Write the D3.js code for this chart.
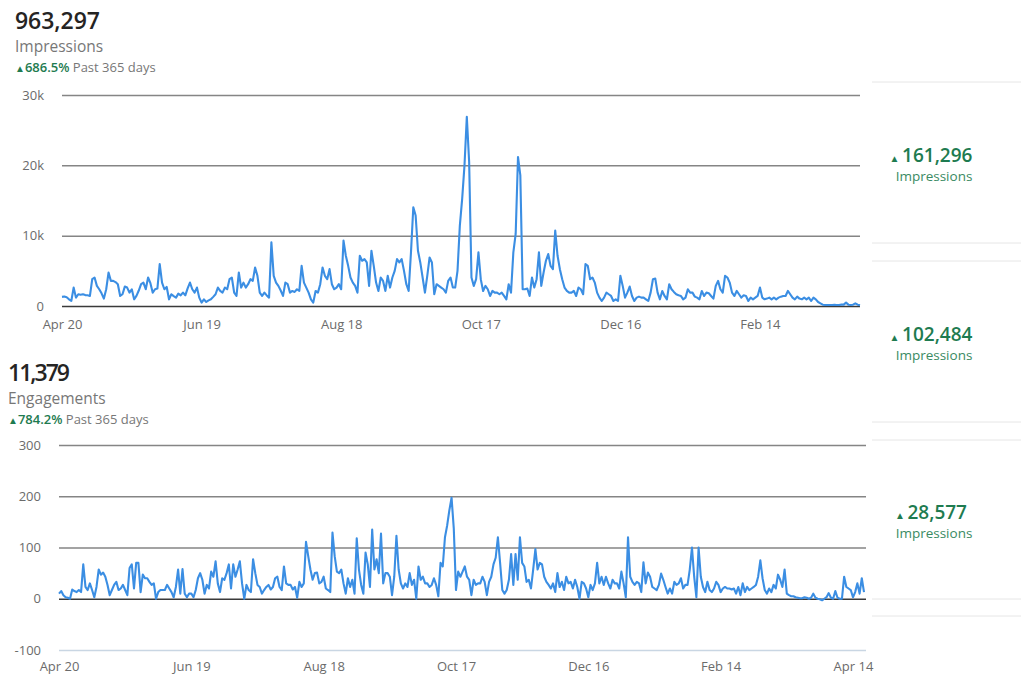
<!DOCTYPE html>
<html>
<head>
<meta charset="utf-8">
<script src="https://cdn.jsdelivr.net/npm/d3@7"></script>
<style>
  body { margin: 0; background: #fff; font-family: "Open Sans", "Noto Sans", sans-serif; }
  svg { display: block; }
</style>
</head>
<body>
<script>
// daily impressions, Apr 20 onwards (top chart)
var impressions = [
  1300,1350,1250,950,710,2620,1190,1670,1600,1670,1550,1520,1430,3810,4050,2860,2380,1800,1050,2380,
  4760,3570,3570,3400,3100,1430,1670,2760,2620,1900,2380,950,1430,2200,3100,3330,2380,4050,3240,1900,
  2380,2480,5950,3330,2380,2710,950,1670,1400,1190,1760,1520,1900,1520,2500,3330,2380,1900,2620,1190,
  480,950,570,800,950,1300,1670,2620,2140,1900,2620,2380,3810,4050,1900,1430,4760,2620,3330,2620,
  3100,3810,3570,5480,4290,1900,1430,1900,1500,1190,9050,4290,3330,2860,2200,1430,3330,3100,1900,2140,
  2000,2380,2140,5710,3330,2620,1900,950,480,2140,1900,
  3100,5480,4290,3810,5240,3100,2380,2620,3100,2380,9290,7140,5710,4050,3330,2860,1900,7140,6430,6670,
  6190,2860,7860,5710,3330,2140,4050,3570,2140,4290,2620,4050,5000,6670,6190,6670,5000,3100,2140,7620,
  14050,12860,7860,6190,4050,1900,4290,6900,6190,1670,3100,2860,2620,2380,1900,3570,4050,2620,2620,5000,
  11430,15240,20000,26900,20480,4050,2860,3810,7620,3810,2140,2860,2380,1430,2140,1900,1900,1670,1900,1430,
  950,3100,1900,7620,10240,21190,18570,2380,2380,2480,1430,4050,2620,3810,7620,2860,4760,6430,7380,5710,
  5240,10710,7140,5240,3810,2620,2140,1900,1900,2140,1430,2620,2380,1670,5950,5710,
  3810,4050,3330,1900,1190,710,1190,1900,1670,1430,710,950,710,4290,2860,1190,1900,2760,1430,710,
  1190,1330,1190,1190,950,710,1900,3810,3900,1900,950,2140,1430,950,3100,2380,2000,1670,1520,1430,
  950,1190,2380,1900,1900,1330,1190,950,2140,1430,1900,1810,1430,1050,2860,3570,2380,1900,4290,4050,
  3330,1900,1430,2140,1670,1190,1520,1430,710,1190,950,1190,1430,2620,1190,950,1050,1190,950,1190,
  950,1190,1330,1430,1430,2140,1670,1190,950,1330,1050,950,1190,950,1190,710,1190,950,570,380,
  190,140,140,150,140,160,140,140,200,190,480,190,140,190,380,190,100
];

// daily engagements, Apr 20 onwards (bottom chart)
var engagements = [
  10,15,7,3,2,0,18,15,13,17,13,67,23,17,30,17,3,23,57,47,
  51,43,27,7,17,27,33,17,20,27,17,7,60,67,20,70,70,13,47,40,
  40,33,27,30,0,13,17,17,17,27,20,13,3,23,57,10,58,10,3,10,
  10,3,17,40,50,37,10,27,20,53,43,73,30,13,40,37,50,67,20,67,
  43,57,73,30,0,27,17,13,77,50,27,23,10,17,23,27,18,23,40,43,
  23,17,63,30,27,27,18,23,2,33,23,30,111,83,57,37,50,51,30,
  33,43,20,17,13,129,83,53,50,57,30,10,40,23,37,10,118,57,27,10,
  90,67,23,135,57,77,50,127,30,50,50,43,7,43,123,57,30,20,30,23,
  50,27,37,0,63,37,43,30,30,23,27,40,27,5,70,63,120,143,173,197,
  137,17,53,43,53,63,43,37,7,37,27,30,30,43,33,7,33,43,67,80,
  120,70,17,10,17,37,87,27,87,37,120,70,63,33,37,20,57,97,57,70,
  67,43,33,27,20,30,13,50,23,33,17,43,30,33,20,37,23,0,33,30,
  20,3,27,
  17,30,70,30,43,27,43,30,20,37,30,30,20,53,30,3,120,43,33,27,
  33,30,13,71,30,51,43,23,20,17,27,49,37,23,10,20,10,33,27,30,
  40,20,27,27,57,100,43,3,100,43,23,13,33,17,13,20,33,27,13,20,
  23,20,20,18,20,10,23,7,30,13,23,17,20,23,27,43,75,40,17,10,
  20,13,27,20,47,37,23,57,10,7,5,5,3,2,1,1,3,2,0,2,
  10,2,0,-1,-3,0,3,11,2,0,15,2,0,0,43,23,20,17,3,13,
  30,10,40,13
];

var startDate = "2019-04-20";
var impTickDates = ["2019-04-20", "2019-06-19", "2019-08-18", "2019-10-17", "2019-12-16", "2020-02-14"];
var engTickDates = ["2019-04-20", "2019-06-19", "2019-08-18", "2019-10-17", "2019-12-16", "2020-02-14", "2020-04-14"];
var impYTicks = [0, 10000, 20000, 30000];
var impYLabels = ["0", "10k", "20k", "30k"];
var engYTicks = [-100, 0, 100, 200, 300];

var headerTotals = ["963,297", "11,379"];
var headerNames = ["Impressions", "Engagements"];
var headerChange = ["686.5%", "784.2%"];
var cardValues = ["161,296", "102,484", "28,577"];
var cardLabel = "Impressions";

var width = 1024, height = 685;
var parse = d3.timeParse("%Y-%m-%d");
var fmt = d3.timeFormat("%b %d");
var lineColor = "#3b8ee3";
var green = "#1e7b50";

var svg = d3.select("body").append("svg")
    .attr("width", width)
    .attr("height", height);

function drawChart(opt) {
  var t0 = parse(startDate);
  var t1 = d3.timeDay.offset(t0, opt.values.length - 1);
  var x = d3.scaleTime().domain([t0, t1]).range([opt.left, opt.right]);
  var y = d3.scaleLinear().domain(opt.yDomain).range([opt.bottom, opt.top]);

  var g = svg.append("g");

  var yAxis = g.append("g")
      .attr("transform", "translate(" + opt.left + ",0)")
      .call(d3.axisLeft(y)
        .tickValues(opt.yTicks)
        .tickSize(-(opt.gridRight - opt.left))
        .tickPadding(18)
        .tickFormat(function(d, i) { return opt.yLabels ? opt.yLabels[i] : d; }));
  yAxis.select(".domain").remove();
  yAxis.selectAll(".tick line")
      .attr("stroke", function(d) { return d === 0 ? "#3a3a3a" : (d < 0 ? "#c9d6e3" : "#858585"); })
      .attr("stroke-width", 1.5);
  yAxis.selectAll(".tick text")
      .attr("fill", "#6b6b6b")
      .style("font-size", "13px")
      .style("font-family", "Open Sans, sans-serif");

  var xAxis = g.append("g")
      .attr("transform", "translate(0," + opt.xLabelY + ")")
      .call(d3.axisBottom(x)
        .tickValues(opt.xTicks.map(parse))
        .tickSize(0)
        .tickFormat(fmt));
  xAxis.select(".domain").remove();
  xAxis.selectAll(".tick text")
      .attr("fill", "#6b6b6b")
      .style("font-size", "13px")
      .style("font-family", "Open Sans, sans-serif");

  var line = d3.line()
      .x(function(d, i) { return x(d3.timeDay.offset(t0, i)); })
      .y(function(d) { return y(d); });

  g.append("path")
      .datum(opt.values)
      .attr("fill", "none")
      .attr("stroke", lineColor)
      .attr("stroke-width", 2.1)
      .attr("stroke-linejoin", "round")
      .attr("d", line);
}

function drawHeader(i, hx, hy, totalW) {
  svg.append("text")
      .attr("x", hx).attr("y", hy)
      .attr("fill", "#252423")
      .attr("textLength", totalW)
      .style("font-size", "23px")
      .style("font-weight", 600)
      .text(headerTotals[i]);
  svg.append("text")
      .attr("x", hx).attr("y", hy + 23)
      .attr("fill", "#777")
      .style("font-size", "15.5px")
      .text(headerNames[i]);
  var t = svg.append("text")
      .attr("x", hx).attr("y", hy + 43)
      .style("font-size", "13px");
  t.append("tspan").attr("fill", green).style("font-size", "10px").text("\u25B2");
  t.append("tspan").attr("fill", green).style("font-weight", 600).text(headerChange[i]);
  t.append("tspan").attr("fill", "#777").text(" Past 365 days");
}

drawHeader(0, 15, 29, 85);
drawHeader(1, 8, 381, 62);

drawChart({
  values: impressions,
  left: 62, right: 860, gridRight: 860,
  top: 95, bottom: 306,
  yDomain: [0, 30000], yTicks: impYTicks, yLabels: impYLabels,
  xTicks: impTickDates, xLabelY: 317
});

drawChart({
  values: engagements,
  left: 59, right: 864, gridRight: 866,
  top: 445, bottom: 650,
  yDomain: [-100, 300], yTicks: engYTicks,
  xTicks: engTickDates, xLabelY: 659
});

// right-hand cards
var cardTops = [82, 261, 440];
var cardBottoms = [243, 422, 599];
var cards = svg.append("g");
cardTops.concat(cardBottoms).concat([616]).forEach(function(yy) {
  cards.append("line")
      .attr("x1", 872).attr("x2", 1021)
      .attr("y1", yy).attr("y2", yy)
      .attr("stroke", "#e6e6e6")
      .attr("stroke-width", 1);
});
cardValues.forEach(function(v, i) {
  var cy = (cardTops[i] + cardBottoms[i]) / 2;
  var t = cards.append("text")
      .attr("x", 931).attr("y", cy - 1)
      .attr("text-anchor", "middle")
      .attr("fill", green)
      .style("font-size", "19px");
  t.append("tspan").style("font-size", "10px").text("\u25B2   ");
  t.append("tspan").style("font-weight", 600).text(v);
  cards.append("text")
      .attr("x", 934).attr("y", cy + 18)
      .attr("text-anchor", "middle")
      .attr("fill", "#3a8a63")
      .style("font-size", "13.5px")
      .text(cardLabel);
});
</script>
</body>
</html>
